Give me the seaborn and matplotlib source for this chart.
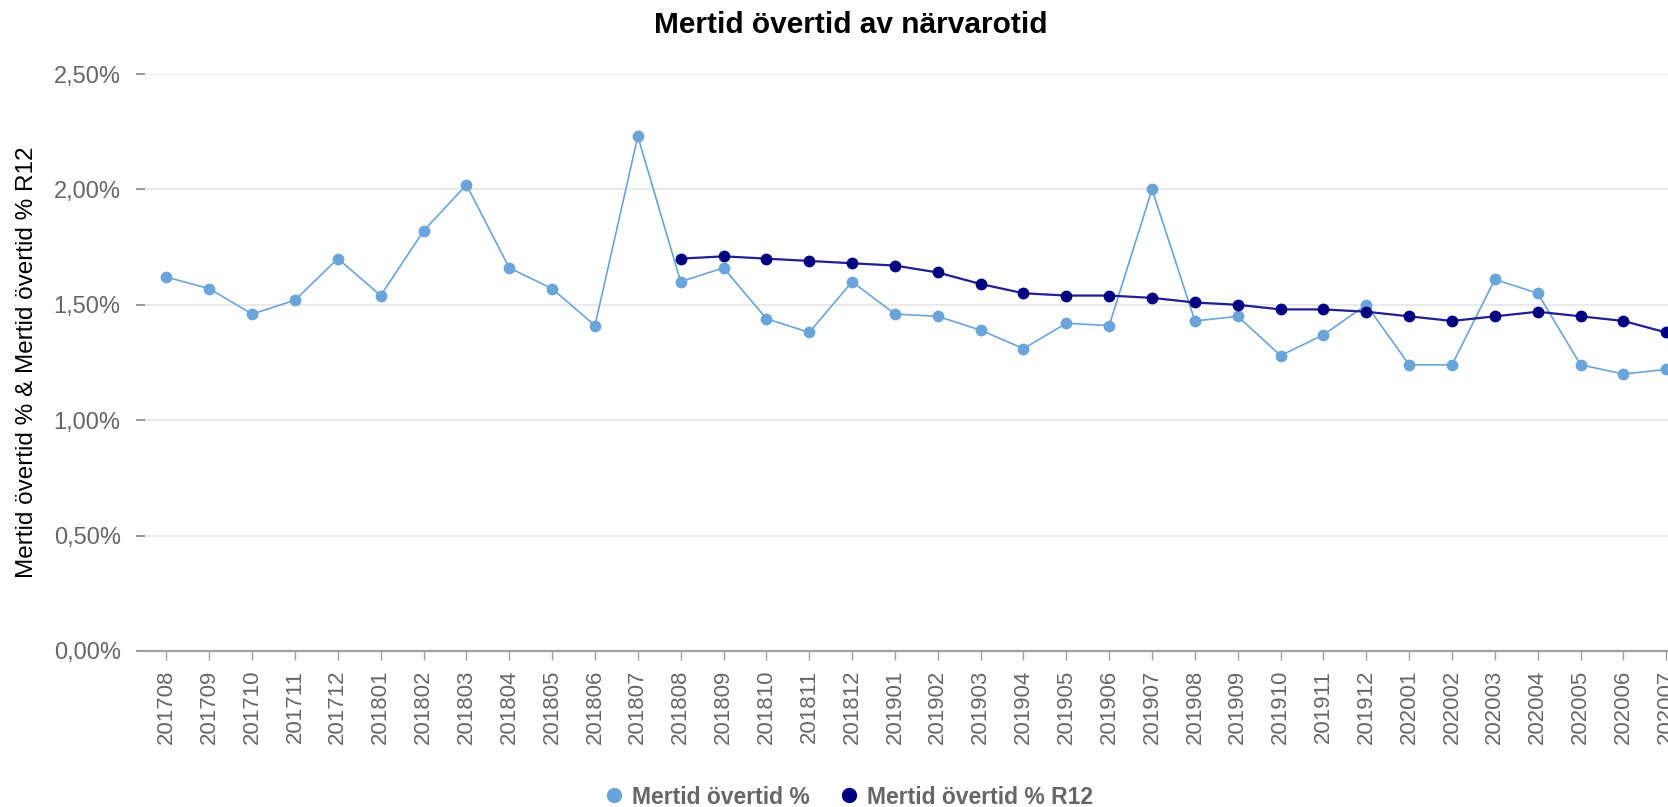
#importing the required libraries
import numpy as np
import pandas as pd
import seaborn as sns
import matplotlib.pyplot as plt
from matplotlib.lines import Line2D
from matplotlib.ticker import FuncFormatter

sns.set_style('white')
plt.rcParams['font.family'] = ['Liberation Sans', 'DejaVu Sans']

# periods (YYYYMM) shown on the x axis
perioder = ['201708', '201709', '201710', '201711', '201712',
            '201801', '201802', '201803', '201804', '201805', '201806',
            '201807', '201808', '201809', '201810', '201811', '201812',
            '201901', '201902', '201903', '201904', '201905', '201906',
            '201907', '201908', '201909', '201910', '201911', '201912',
            '202001', '202002', '202003', '202004', '202005', '202006',
            '202007']

# Mertid övertid % (monthly)
overtid = [1.62, 1.57, 1.46, 1.52, 1.70, 1.54, 1.82, 2.02, 1.66, 1.57, 1.41,
           2.23, 1.60, 1.66, 1.44, 1.38, 1.60, 1.46, 1.45, 1.39, 1.31, 1.42,
           1.41, 2.00, 1.43, 1.45, 1.28, 1.37, 1.50, 1.24, 1.24, 1.61, 1.55,
           1.24, 1.20, 1.22]

# Mertid övertid % R12 (rolling 12 months, starts 201808)
overtid_r12 = [np.nan] * 12 + [1.70, 1.71, 1.70, 1.69, 1.68, 1.67, 1.64, 1.59,
                                1.55, 1.54, 1.54, 1.53, 1.51, 1.50, 1.48, 1.48,
                                1.47, 1.45, 1.43, 1.45, 1.47, 1.45, 1.43, 1.38]

df = pd.DataFrame({'period': perioder, 'overtid': overtid, 'r12': overtid_r12})

ljus = '#6aa4d9'
mork = '#000080'

fig = plt.figure(figsize=(16.68, 8.07), dpi=100)
ax = fig.add_axes([145 / 1668, 1 - 651 / 807, 1 - 145 / 1668, (651 - 74) / 807])

sns.lineplot(data=df, x='period', y='overtid', color=ljus, marker='o',
             markersize=8.5, markeredgewidth=0, linewidth=1.2, ax=ax,
             errorbar=None)
sns.lineplot(data=df.dropna(), x='period', y='r12', color=mork, marker='o',
             markersize=8.5, markeredgewidth=0, linewidth=1.6, ax=ax,
             errorbar=None)
ax.lines[-1].set_color('#1f1f90')
ax.lines[-1].set_markerfacecolor(mork)

ax.set_xlim(-0.5, len(perioder) - 1 + 0.04)
ax.set_ylim(0, 2.5)
ax.set_yticks(np.arange(0, 2.51, 0.5))
ax.yaxis.set_major_formatter(FuncFormatter(lambda v, p: f'{v:.2f}%'.replace('.', ',')))

ax.grid(axis='y', color='#e6e6e6', linewidth=1.2)
ax.grid(axis='x', visible=False)
for s in ['top', 'right', 'left']:
    ax.spines[s].set_visible(False)
ax.spines['bottom'].set_color('#a0a0a0')
ax.spines['bottom'].set_linewidth(1.6)

ax.tick_params(axis='x', rotation=90, labelsize=16, colors='#666666',
               length=6.5, width=1, pad=7, bottom=True)
ax.tick_params(axis='x', color='#a0a0a0')
ax.tick_params(axis='y', labelsize=17, colors='#666666', length=6.5,
               width=1.2, pad=11, left=True)
ax.tick_params(axis='y', color='#888888')

ax.set_xlabel('')
ax.set_ylabel('Mertid övertid % & Mertid övertid % R12', fontsize=17.5,
              color='black')
ax.yaxis.set_label_coords(-(145 - 38) / (1668 - 145), 0.5)

fig.text(851 / 1668, 1 - 25 / 807, 'Mertid övertid av närvarotid',
         ha='center', va='center', fontsize=21.5, fontweight='bold', color='black')

handles = [Line2D([], [], linestyle='none', marker='o', markersize=11,
                  markerfacecolor=ljus, markeredgewidth=0),
           Line2D([], [], linestyle='none', marker='o', markersize=11,
                  markerfacecolor=mork, markeredgewidth=0)]
leg = fig.legend(handles, ['Mertid övertid %', 'Mertid övertid % R12'],
                 loc='center', bbox_to_anchor=(848 / 1668, 1 - 797 / 807),
                 ncol=2, frameon=False, handletextpad=0.3, columnspacing=1.2,
                 handlelength=1.0, prop={'size': 16.5, 'weight': 'bold'})
for t in leg.get_texts():
    t.set_color('#666666')

fig.savefig('out.png', dpi=100)
